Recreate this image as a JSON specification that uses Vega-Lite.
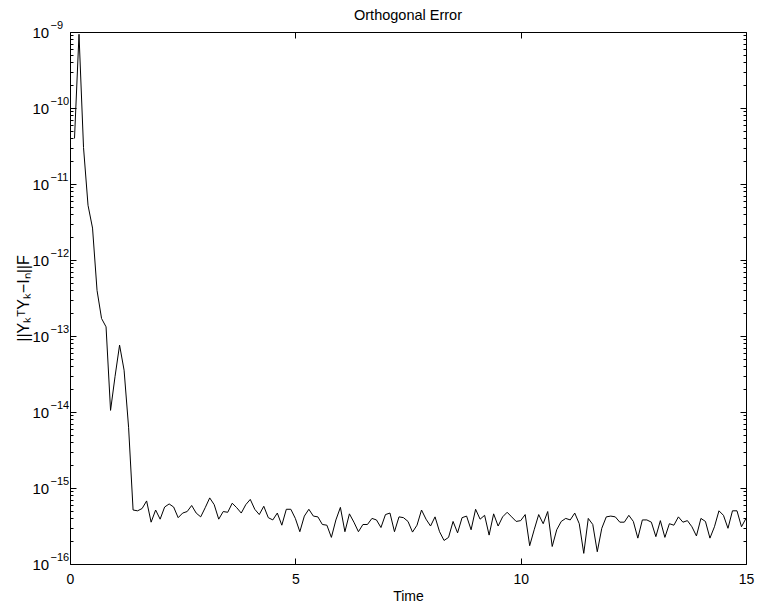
{
  "$schema": "https://vega.github.io/schema/vega-lite/v6.json",
  "width": 676,
  "height": 532,
  "autosize": {"type": "none"},
  "padding": {"left": 70, "top": 32, "right": 11, "bottom": 43},
  "background": "white",
  "title": {"text": "Orthogonal Error", "font": "Liberation Sans", "fontSize": 14.5, "fontWeight": "normal", "color": "black", "frame": "group", "offset": -4},
  "config": {
    "view": {"stroke": "black", "strokeWidth": 1},
    "axis": {"domain": false, "grid": false, "tickColor": "black", "tickWidth": 1, "labelColor": "black", "labelFont": "Liberation Sans", "labelFontSize": 14, "titleColor": "black", "titleFont": "Liberation Sans", "titleFontSize": 14, "titleFontWeight": "normal", "labelFlush": false, "labelOverlap": false}
  },
  "data": {"values": [
    {"t": 0.1, "e": 3.98e-11}, {"t": 0.2, "e": 9.33e-10}, {"t": 0.3, "e": 3.02e-11}, {"t": 0.4, "e": 5.25e-12}, {"t": 0.5, "e": 2.63e-12},
    {"t": 0.6, "e": 3.98e-13}, {"t": 0.7, "e": 1.70e-13}, {"t": 0.8, "e": 1.32e-13}, {"t": 0.9, "e": 1.05e-14}, {"t": 1.0, "e": 2.95e-14},
    {"t": 1.1, "e": 7.59e-14}, {"t": 1.2, "e": 3.55e-14}, {"t": 1.3, "e": 6.3e-15}, {"t": 1.4, "e": 5.13e-16}, {"t": 1.5, "e": 5.01e-16},
    {"t": 1.6, "e": 5.37e-16}, {"t": 1.7, "e": 6.76e-16}, {"t": 1.8, "e": 3.55e-16}, {"t": 1.9, "e": 5.13e-16}, {"t": 2.0, "e": 3.89e-16},
    {"t": 2.1, "e": 5.62e-16}, {"t": 2.2, "e": 6.17e-16}, {"t": 2.3, "e": 5.62e-16}, {"t": 2.4, "e": 4.07e-16}, {"t": 2.5, "e": 4.68e-16},
    {"t": 2.6, "e": 4.90e-16}, {"t": 2.7, "e": 5.89e-16}, {"t": 2.8, "e": 4.68e-16}, {"t": 2.9, "e": 4.17e-16}, {"t": 3.0, "e": 5.50e-16},
    {"t": 3.1, "e": 7.41e-16}, {"t": 3.2, "e": 6.03e-16}, {"t": 3.3, "e": 3.89e-16}, {"t": 3.4, "e": 4.90e-16}, {"t": 3.5, "e": 4.79e-16},
    {"t": 3.6, "e": 6.31e-16}, {"t": 3.7, "e": 5.50e-16}, {"t": 3.8, "e": 4.68e-16}, {"t": 3.9, "e": 6.03e-16}, {"t": 4.0, "e": 7.08e-16},
    {"t": 4.1, "e": 5.25e-16}, {"t": 4.2, "e": 4.47e-16}, {"t": 4.3, "e": 5.75e-16}, {"t": 4.4, "e": 4.07e-16}, {"t": 4.5, "e": 3.80e-16},
    {"t": 4.6, "e": 4.68e-16}, {"t": 4.7, "e": 3.24e-16}, {"t": 4.8, "e": 5.25e-16}, {"t": 4.9, "e": 5.25e-16}, {"t": 5.0, "e": 3.98e-16},
    {"t": 5.1, "e": 2.66e-16}, {"t": 5.2, "e": 4.27e-16}, {"t": 5.3, "e": 5.25e-16}, {"t": 5.4, "e": 4.27e-16}, {"t": 5.5, "e": 4.17e-16},
    {"t": 5.6, "e": 3.31e-16}, {"t": 5.7, "e": 3.24e-16}, {"t": 5.8, "e": 2.24e-16}, {"t": 5.9, "e": 3.80e-16}, {"t": 6.0, "e": 5.56e-16},
    {"t": 6.1, "e": 2.66e-16}, {"t": 6.2, "e": 4.57e-16}, {"t": 6.3, "e": 3.55e-16}, {"t": 6.4, "e": 2.66e-16}, {"t": 6.5, "e": 3.31e-16},
    {"t": 6.6, "e": 3.31e-16}, {"t": 6.7, "e": 3.98e-16}, {"t": 6.8, "e": 3.80e-16}, {"t": 6.9, "e": 3.02e-16}, {"t": 7.0, "e": 4.47e-16},
    {"t": 7.1, "e": 4.68e-16}, {"t": 7.2, "e": 2.66e-16}, {"t": 7.3, "e": 4.17e-16}, {"t": 7.4, "e": 4.07e-16}, {"t": 7.5, "e": 3.63e-16},
    {"t": 7.6, "e": 2.63e-16}, {"t": 7.7, "e": 3.24e-16}, {"t": 7.8, "e": 5.13e-16}, {"t": 7.9, "e": 3.89e-16}, {"t": 8.0, "e": 3.16e-16},
    {"t": 8.1, "e": 4.17e-16}, {"t": 8.2, "e": 2.66e-16}, {"t": 8.3, "e": 2.04e-16}, {"t": 8.4, "e": 2.24e-16}, {"t": 8.5, "e": 3.63e-16},
    {"t": 8.6, "e": 2.57e-16}, {"t": 8.7, "e": 4.07e-16}, {"t": 8.8, "e": 4.27e-16}, {"t": 8.9, "e": 2.82e-16}, {"t": 9.0, "e": 5.25e-16},
    {"t": 9.1, "e": 3.89e-16}, {"t": 9.2, "e": 4.37e-16}, {"t": 9.3, "e": 2.40e-16}, {"t": 9.4, "e": 4.57e-16}, {"t": 9.5, "e": 3.16e-16},
    {"t": 9.6, "e": 4.17e-16}, {"t": 9.7, "e": 4.79e-16}, {"t": 9.8, "e": 4.17e-16}, {"t": 9.9, "e": 3.63e-16}, {"t": 10.0, "e": 3.72e-16},
    {"t": 10.1, "e": 4.47e-16}, {"t": 10.2, "e": 1.74e-16}, {"t": 10.3, "e": 2.82e-16}, {"t": 10.4, "e": 4.47e-16}, {"t": 10.5, "e": 3.39e-16},
    {"t": 10.6, "e": 4.90e-16}, {"t": 10.7, "e": 1.70e-16}, {"t": 10.8, "e": 2.82e-16}, {"t": 10.9, "e": 3.63e-16}, {"t": 11.0, "e": 3.98e-16},
    {"t": 11.1, "e": 3.80e-16}, {"t": 11.2, "e": 4.68e-16}, {"t": 11.3, "e": 3.39e-16}, {"t": 11.4, "e": 1.38e-16}, {"t": 11.5, "e": 3.98e-16},
    {"t": 11.6, "e": 3.31e-16}, {"t": 11.7, "e": 1.45e-16}, {"t": 11.8, "e": 2.95e-16}, {"t": 11.9, "e": 4.17e-16}, {"t": 12.0, "e": 4.27e-16},
    {"t": 12.1, "e": 4.17e-16}, {"t": 12.2, "e": 3.55e-16}, {"t": 12.3, "e": 3.55e-16}, {"t": 12.4, "e": 4.37e-16}, {"t": 12.5, "e": 3.63e-16},
    {"t": 12.6, "e": 2.19e-16}, {"t": 12.7, "e": 3.80e-16}, {"t": 12.8, "e": 3.80e-16}, {"t": 12.9, "e": 3.55e-16}, {"t": 13.0, "e": 2.29e-16},
    {"t": 13.1, "e": 3.72e-16}, {"t": 13.2, "e": 2.24e-16}, {"t": 13.3, "e": 3.39e-16}, {"t": 13.4, "e": 3.24e-16}, {"t": 13.5, "e": 4.17e-16},
    {"t": 13.6, "e": 3.55e-16}, {"t": 13.7, "e": 3.72e-16}, {"t": 13.8, "e": 3.09e-16}, {"t": 13.9, "e": 2.34e-16}, {"t": 14.0, "e": 3.98e-16},
    {"t": 14.1, "e": 3.63e-16}, {"t": 14.2, "e": 2.19e-16}, {"t": 14.3, "e": 3.09e-16}, {"t": 14.4, "e": 5.01e-16}, {"t": 14.5, "e": 4.37e-16},
    {"t": 14.6, "e": 2.95e-16}, {"t": 14.7, "e": 5.01e-16}, {"t": 14.8, "e": 5.01e-16}, {"t": 14.9, "e": 3.09e-16}, {"t": 15.0, "e": 3.98e-16}
  ]},
  "layer": [
    {
      "mark": {"type": "line", "color": "black", "strokeWidth": 1, "clip": true},
      "encoding": {
        "x": {"field": "t", "type": "quantitative", "scale": {"domain": [0, 15], "nice": false, "zero": false},
              "axis": {"orient": "bottom", "values": [0, 5, 10, 15], "tickSize": -6, "labelPadding": 14, "title": "Time", "titlePadding": 3, "format": "d"}},
        "y": {"field": "e", "type": "quantitative", "scale": {"type": "log", "domain": [1e-16, 1e-9], "nice": false},
              "axis": {"orient": "left", "values": [1e-16, 1e-15, 1e-14, 1e-13, 1e-12, 1e-11, 1e-10, 1e-9], "tickSize": -6, "labelPadding": 44,
                       "labelAlign": "left", "labelFontSize": 15, "labelExpr": "'10'",
                       "title": "||YₖᵀYₖ−Iₙ||F", "titleFontSize": 16, "titleX": -42, "titleBaseline": "alphabetic"}}
      }
    },
    {
      "mark": {"type": "line", "strokeOpacity": 0},
      "encoding": {
        "x": {"field": "t", "type": "quantitative", "scale": {"domain": [0, 15], "nice": false, "zero": false}, "axis": null},
        "y": {"field": "e", "type": "quantitative", "scale": {"type": "log", "domain": [1e-16, 1e-9], "nice": false},
              "axis": {"orient": "left", "values": [1e-16, 1e-15, 1e-14, 1e-13, 1e-12, 1e-11, 1e-10, 1e-9], "ticks": false, "labelPadding": 20,
                       "labelAlign": "left", "labelFontSize": 11, "labelOffset": -7,
                       "labelExpr": "'−' + round(-log(datum.value)/LN10)", "title": null}}
      }
    },
    {
      "mark": {"type": "line", "strokeOpacity": 0},
      "encoding": {
        "x": {"field": "t", "type": "quantitative", "scale": {"domain": [0, 15], "nice": false, "zero": false},
              "axis": {"orient": "top", "values": [0, 5, 10, 15], "tickSize": -6, "labels": false, "title": null}},
        "y": {"field": "e", "type": "quantitative", "scale": {"type": "log", "domain": [1e-16, 1e-9], "nice": false},
              "axis": {"orient": "right", "values": [1e-16, 1e-15, 1e-14, 1e-13, 1e-12, 1e-11, 1e-10, 1e-9], "tickSize": -6, "labels": false, "title": null}}
      }
    },
    {
      "mark": {"type": "line", "strokeOpacity": 0},
      "encoding": {
        "x": {"field": "t", "type": "quantitative", "scale": {"domain": [0, 15], "nice": false, "zero": false}, "axis": null},
        "y": {"field": "e", "type": "quantitative", "scale": {"type": "log", "domain": [1e-16, 1e-9], "nice": false},
              "axis": {"orient": "left", "tickSize": -3, "labels": false, "title": null,
                       "values": [2e-16,3e-16,4e-16,5e-16,6e-16,7e-16,8e-16,9e-16,2e-15,3e-15,4e-15,5e-15,6e-15,7e-15,8e-15,9e-15,2e-14,3e-14,4e-14,5e-14,6e-14,7e-14,8e-14,9e-14,2e-13,3e-13,4e-13,5e-13,6e-13,7e-13,8e-13,9e-13,2e-12,3e-12,4e-12,5e-12,6e-12,7e-12,8e-12,9e-12,2e-11,3e-11,4e-11,5e-11,6e-11,7e-11,8e-11,9e-11,2e-10,3e-10,4e-10,5e-10,6e-10,7e-10,8e-10,9e-10]}}
      }
    },
    {
      "mark": {"type": "line", "strokeOpacity": 0},
      "encoding": {
        "x": {"field": "t", "type": "quantitative", "scale": {"domain": [0, 15], "nice": false, "zero": false}, "axis": null},
        "y": {"field": "e", "type": "quantitative", "scale": {"type": "log", "domain": [1e-16, 1e-9], "nice": false},
              "axis": {"orient": "right", "tickSize": -3, "labels": false, "title": null,
                       "values": [2e-16,3e-16,4e-16,5e-16,6e-16,7e-16,8e-16,9e-16,2e-15,3e-15,4e-15,5e-15,6e-15,7e-15,8e-15,9e-15,2e-14,3e-14,4e-14,5e-14,6e-14,7e-14,8e-14,9e-14,2e-13,3e-13,4e-13,5e-13,6e-13,7e-13,8e-13,9e-13,2e-12,3e-12,4e-12,5e-12,6e-12,7e-12,8e-12,9e-12,2e-11,3e-11,4e-11,5e-11,6e-11,7e-11,8e-11,9e-11,2e-10,3e-10,4e-10,5e-10,6e-10,7e-10,8e-10,9e-10]}}
      }
    }
  ],
  "resolve": {"axis": {"x": "independent", "y": "independent"}}
}
